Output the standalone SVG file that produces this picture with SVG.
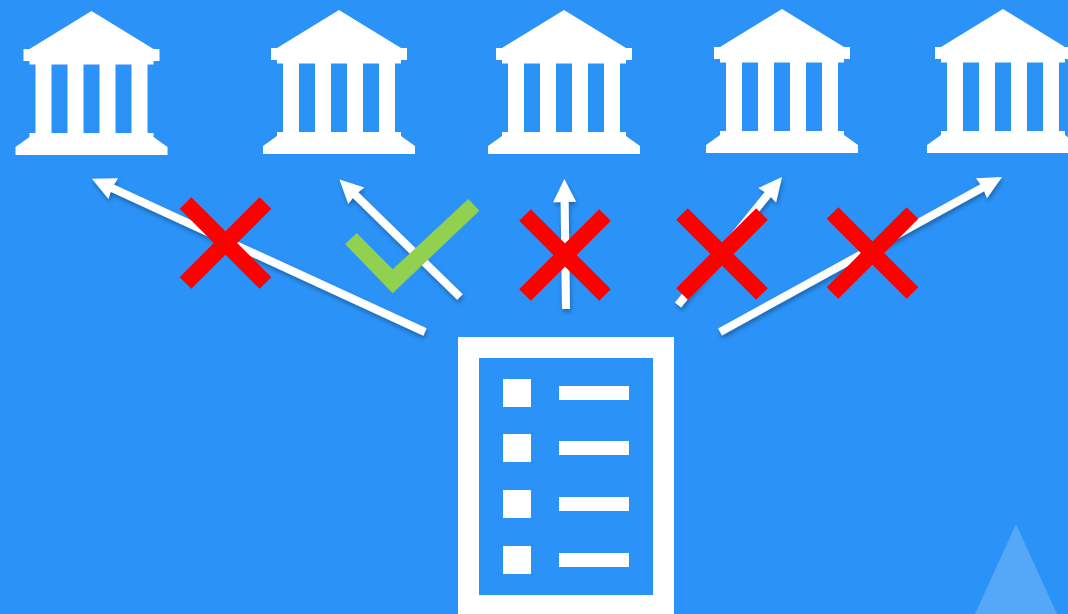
<svg xmlns="http://www.w3.org/2000/svg" width="1068" height="614" viewBox="0 0 1068 614">
<style>
.conn{stroke:#fff;stroke-width:8;fill:none;marker-end:url(#head)}
.cross{stroke:#f00;stroke-width:16.500;fill:none}
.w{fill:#fff}
</style>
<defs>
<marker id="head" markerUnits="userSpaceOnUse" markerWidth="25" markerHeight="25" viewBox="0 0 25 25" refX="4" refY="12.500" orient="auto"><path d="M24 12.500L.5 1L2 12.500L.5 24Z" fill="#fff"/></marker>
<marker id="headFlat" markerUnits="userSpaceOnUse" markerWidth="25" markerHeight="25" viewBox="0 0 25 25" refX="4" refY="12.500" orient="auto"><path d="M24 12.500L1 1V24Z" fill="#fff"/></marker>
<filter id="shadow" x="-10%" y="-10%" width="120%" height="130%"><feDropShadow dx="1" dy="3" stdDeviation="2" flood-color="#000" flood-opacity=".3"/></filter>
<path id="bank" fill="#fff" fill-rule="evenodd" d="M91.500 11L29.500 49H23.500V61H29.500V64.500H35.500V133H29.500V137L15.500 147V155H167.500V147L153.500 137V133H147.500V64.500H153.500V61H159.500V49H153.500ZM51.500 64.500H67.500V133H51.500ZM83.500 64.500H99.500V133H83.500ZM115.500 64.500H131.500V133H115.500Z"/>
<g id="x"><path class="cross" d="M-40 -40L40 40M40 -40L-40 40"/></g>
</defs>
<rect width="1068" height="614" fill="#2b92f7"/>
<polygon id="watermark" points="1016,524 1057,614 975,614" fill="#fff" fill-opacity=".2"/>
<g id="bank-1"><use href="#bank"/></g>
<g id="bank-2"><use href="#bank" x="247.500" y="-1"/></g>
<g id="bank-3"><use href="#bank" x="472.500" y="-1"/></g>
<g id="bank-4"><use href="#bank" x="690.500" y="-2"/></g>
<g id="bank-5"><use href="#bank" x="911.500" y="-2"/></g>
<g id="connectors" filter="url(#shadow)">
<line class="conn" x1="425" y1="332" x2="110.100" y2="187.200"/>
<line class="conn" x1="460" y1="297" x2="353.800" y2="193.400"/>
<line class="conn" x1="566" y1="309" x2="564.600" y2="199" style="marker-end:url(#headFlat)"/>
<line class="conn" x1="678" y1="305" x2="769.400" y2="192.600"/>
<line class="conn" x1="720" y1="332" x2="984.500" y2="186.600"/>
</g>
<g id="status-1"><use href="#x" x="225.500" y="243"/></g>
<polygon id="status-2" points="356.700,233 392.700,269.300 468.300,199 479.300,210.700 392.700,293.300 345,244" fill="#92d050"/>
<g id="status-3"><use href="#x" x="565" y="255"/></g>
<g id="status-4"><use href="#x" x="722" y="254"/></g>
<g id="status-5"><use href="#x" x="872.500" y="253"/></g>
<g id="document">
<path class="w" fill-rule="evenodd" d="M458 337H674V614H458ZM479 358V595H653V358Z"/>
<rect class="w" x="503" y="379" width="28" height="28"/>
<rect class="w" x="559" y="386" width="70" height="14"/>
<rect class="w" x="503" y="434" width="28" height="28"/>
<rect class="w" x="559" y="441" width="70" height="14"/>
<rect class="w" x="503" y="490" width="28" height="28"/>
<rect class="w" x="559" y="497" width="70" height="14"/>
<rect class="w" x="503" y="546" width="28" height="28"/>
<rect class="w" x="559" y="553" width="70" height="14"/>
</g>
</svg>
